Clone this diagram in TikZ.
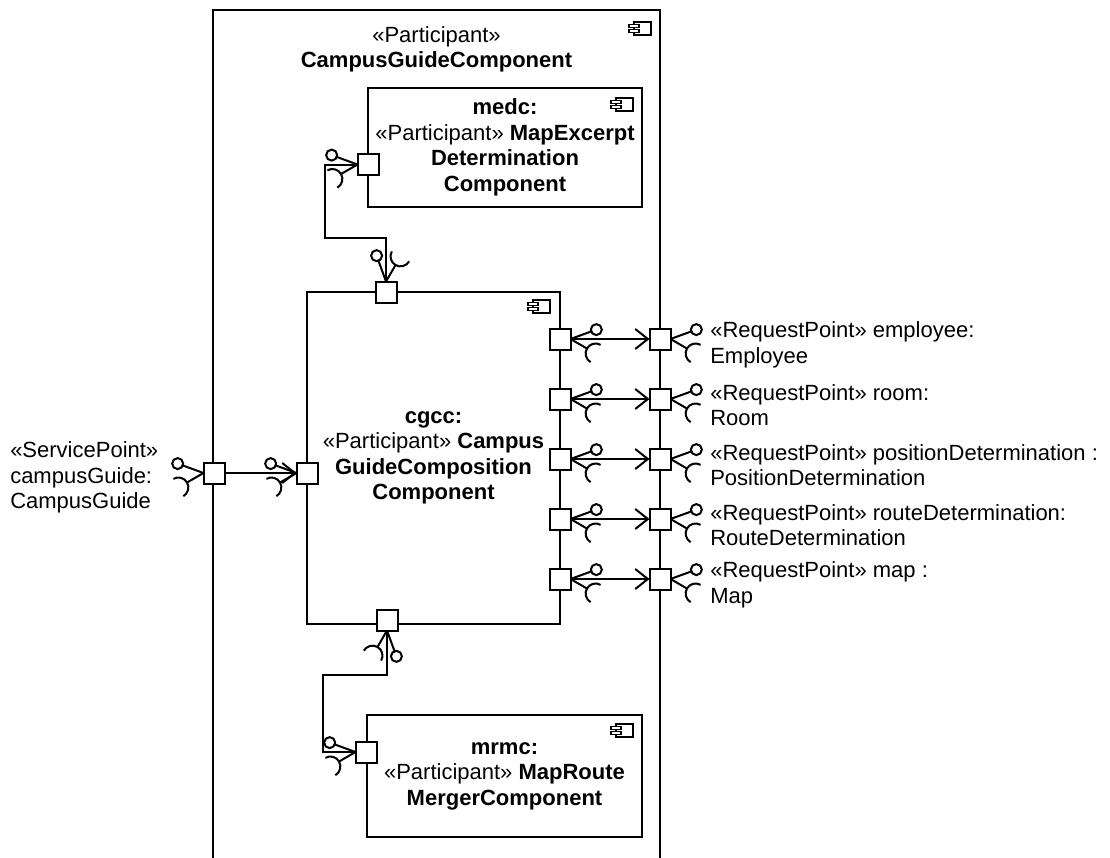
\documentclass[tikz,border=0pt]{standalone}
\usepackage{fontspec}
\setmainfont{Liberation Sans}
\usetikzlibrary{arrows.meta,calc}
\newcommand{\diagfont}{\fontsize{16.5pt}{19.1pt}\selectfont}
\newcommand{\ifacedraw}[3]{%
  \draw[ln] (#1) -- ++(#2:22) ++(#2:5.5) circle[radius=5.5];
  \draw[ln] (#1) -- ++(#3:19);
  \draw[ln] ($(#1)+(#3:29)+(#3+90:10)$) arc[start angle=#3+90, end angle=#3+270, radius=10];
}
\tikzset{
  ln/.style={line width=1.5pt},
  port/.style={draw, fill=white, line width=1.5pt, minimum size=15.75pt, inner sep=0pt, outer sep=0pt},
  cbox/.style={draw, line width=1.5pt, inner sep=0pt, align=center, font=\diagfont},
  lbl/.style={font=\diagfont, inner sep=0pt},
  deleg/.style={line width=1.5pt, -{Straight Barb[length=9.5pt, width=15pt]}},
  iconline/.style={line width=1.1pt},
  cicon/.pic={
    \draw[iconline, fill=white] (-17,0) rectangle (0,-13);
    \draw[iconline, fill=white] (-22,-2.5) rectangle (-12,-5.5);
    \draw[iconline, fill=white] (-22,-7.5) rectangle (-12,-10.5);
  }
}
\begin{document}
\begin{tikzpicture}[x=0.75pt, y=0.75pt]
\useasboundingbox (0,0) rectangle (1110,-857);
\clip (0,0) rectangle (1110,-857);
% outer participant (continues below the picture)
\draw[ln] (213,-870) -- (213,-10) -- (660,-10) -- (660,-870);
\node[lbl, align=center] (title) at (436.5,-49.5) {«Participant»\\\textbf{CampusGuideComponent}};
\pic at (651,-22) {cicon};

% inner parts
\node[cbox, minimum width=205.5pt, minimum height=89.25pt] (medc) at (505,-147.5)
  {\textbf{medc:}\\«Participant» \textbf{MapExcerpt}\\\textbf{Determination}\\\textbf{Component}};
\pic at (633,-98) {cicon};
\node[cbox, minimum width=189.75pt, minimum height=249pt] (cgcc) at (433.5,-458)
  {\textbf{cgcc:}\\«Participant» \textbf{Campus}\\\textbf{GuideComposition}\\\textbf{Component}};
\pic at (550,-300) {cicon};
\node[cbox, minimum width=206.25pt, minimum height=91.5pt] (mrmc) at (504.5,-776)
  {\textbf{mrmc:}\\«Participant» \textbf{MapRoute}\\\textbf{MergerComponent}};
\pic at (633,-724) {cicon};

% ports
\node[port] (medcp) at (368,-164.5) {};
\node[port] (cgtp) at (386,-292) {};
\node[port] (cgbp) at (387,-620) {};
\node[port] (mrp) at (366,-752) {};
\node[port] (cglp) at (307,-473) {};
\node[port] (olp) at (214,-473) {};

% assembly connectors
\draw[ln] (medcp.west) -- ++(-33,0) |- ($(cgtp.north)+(0,44)$) -- (cgtp.north);
\draw[ln] (cgbp.south) -- ++(0,-44) -| ($(mrp.west)+(-33,0)$) -- (mrp.west);

% delegation from service point
\draw[deleg] (olp.east) -- (cglp.west);

% interfaces
\ifacedraw{medcp.west}{160}{210}
\ifacedraw{cgtp.north}{110}{60}
\ifacedraw{cgbp.south}{290}{240}
\ifacedraw{mrp.west}{160}{210}
\ifacedraw{cglp.west}{160}{210}
\ifacedraw{olp.west}{160}{210}

\node[lbl, anchor=west, align=left] (spl) at (10,-477.5) {«ServicePoint»\\campusGuide:\\CampusGuide};

% request points
\foreach \i/\yy/\la/\lb in {
 1/339/{employee:}/{Employee},
 2/399/{room:}/{Room},
 3/459/{positionDetermination :}/{PositionDetermination},
 4/519/{routeDetermination:}/{RouteDetermination},
 5/579/{map :}/{Map}}{
  \node[port] (cgr\i) at (560,-\yy) {};
  \node[port] (ob\i) at (660,-\yy) {};
  \draw[deleg] (cgr\i.east) -- (ob\i.west);
  \ifacedraw{cgr\i.east}{20}{330}
  \ifacedraw{ob\i.east}{20}{330}
  \node[lbl, anchor=west, align=left] (rl\i) at (710,-\yy-6) {«RequestPoint» \la\\\lb};
}
\end{tikzpicture}
\end{document}
